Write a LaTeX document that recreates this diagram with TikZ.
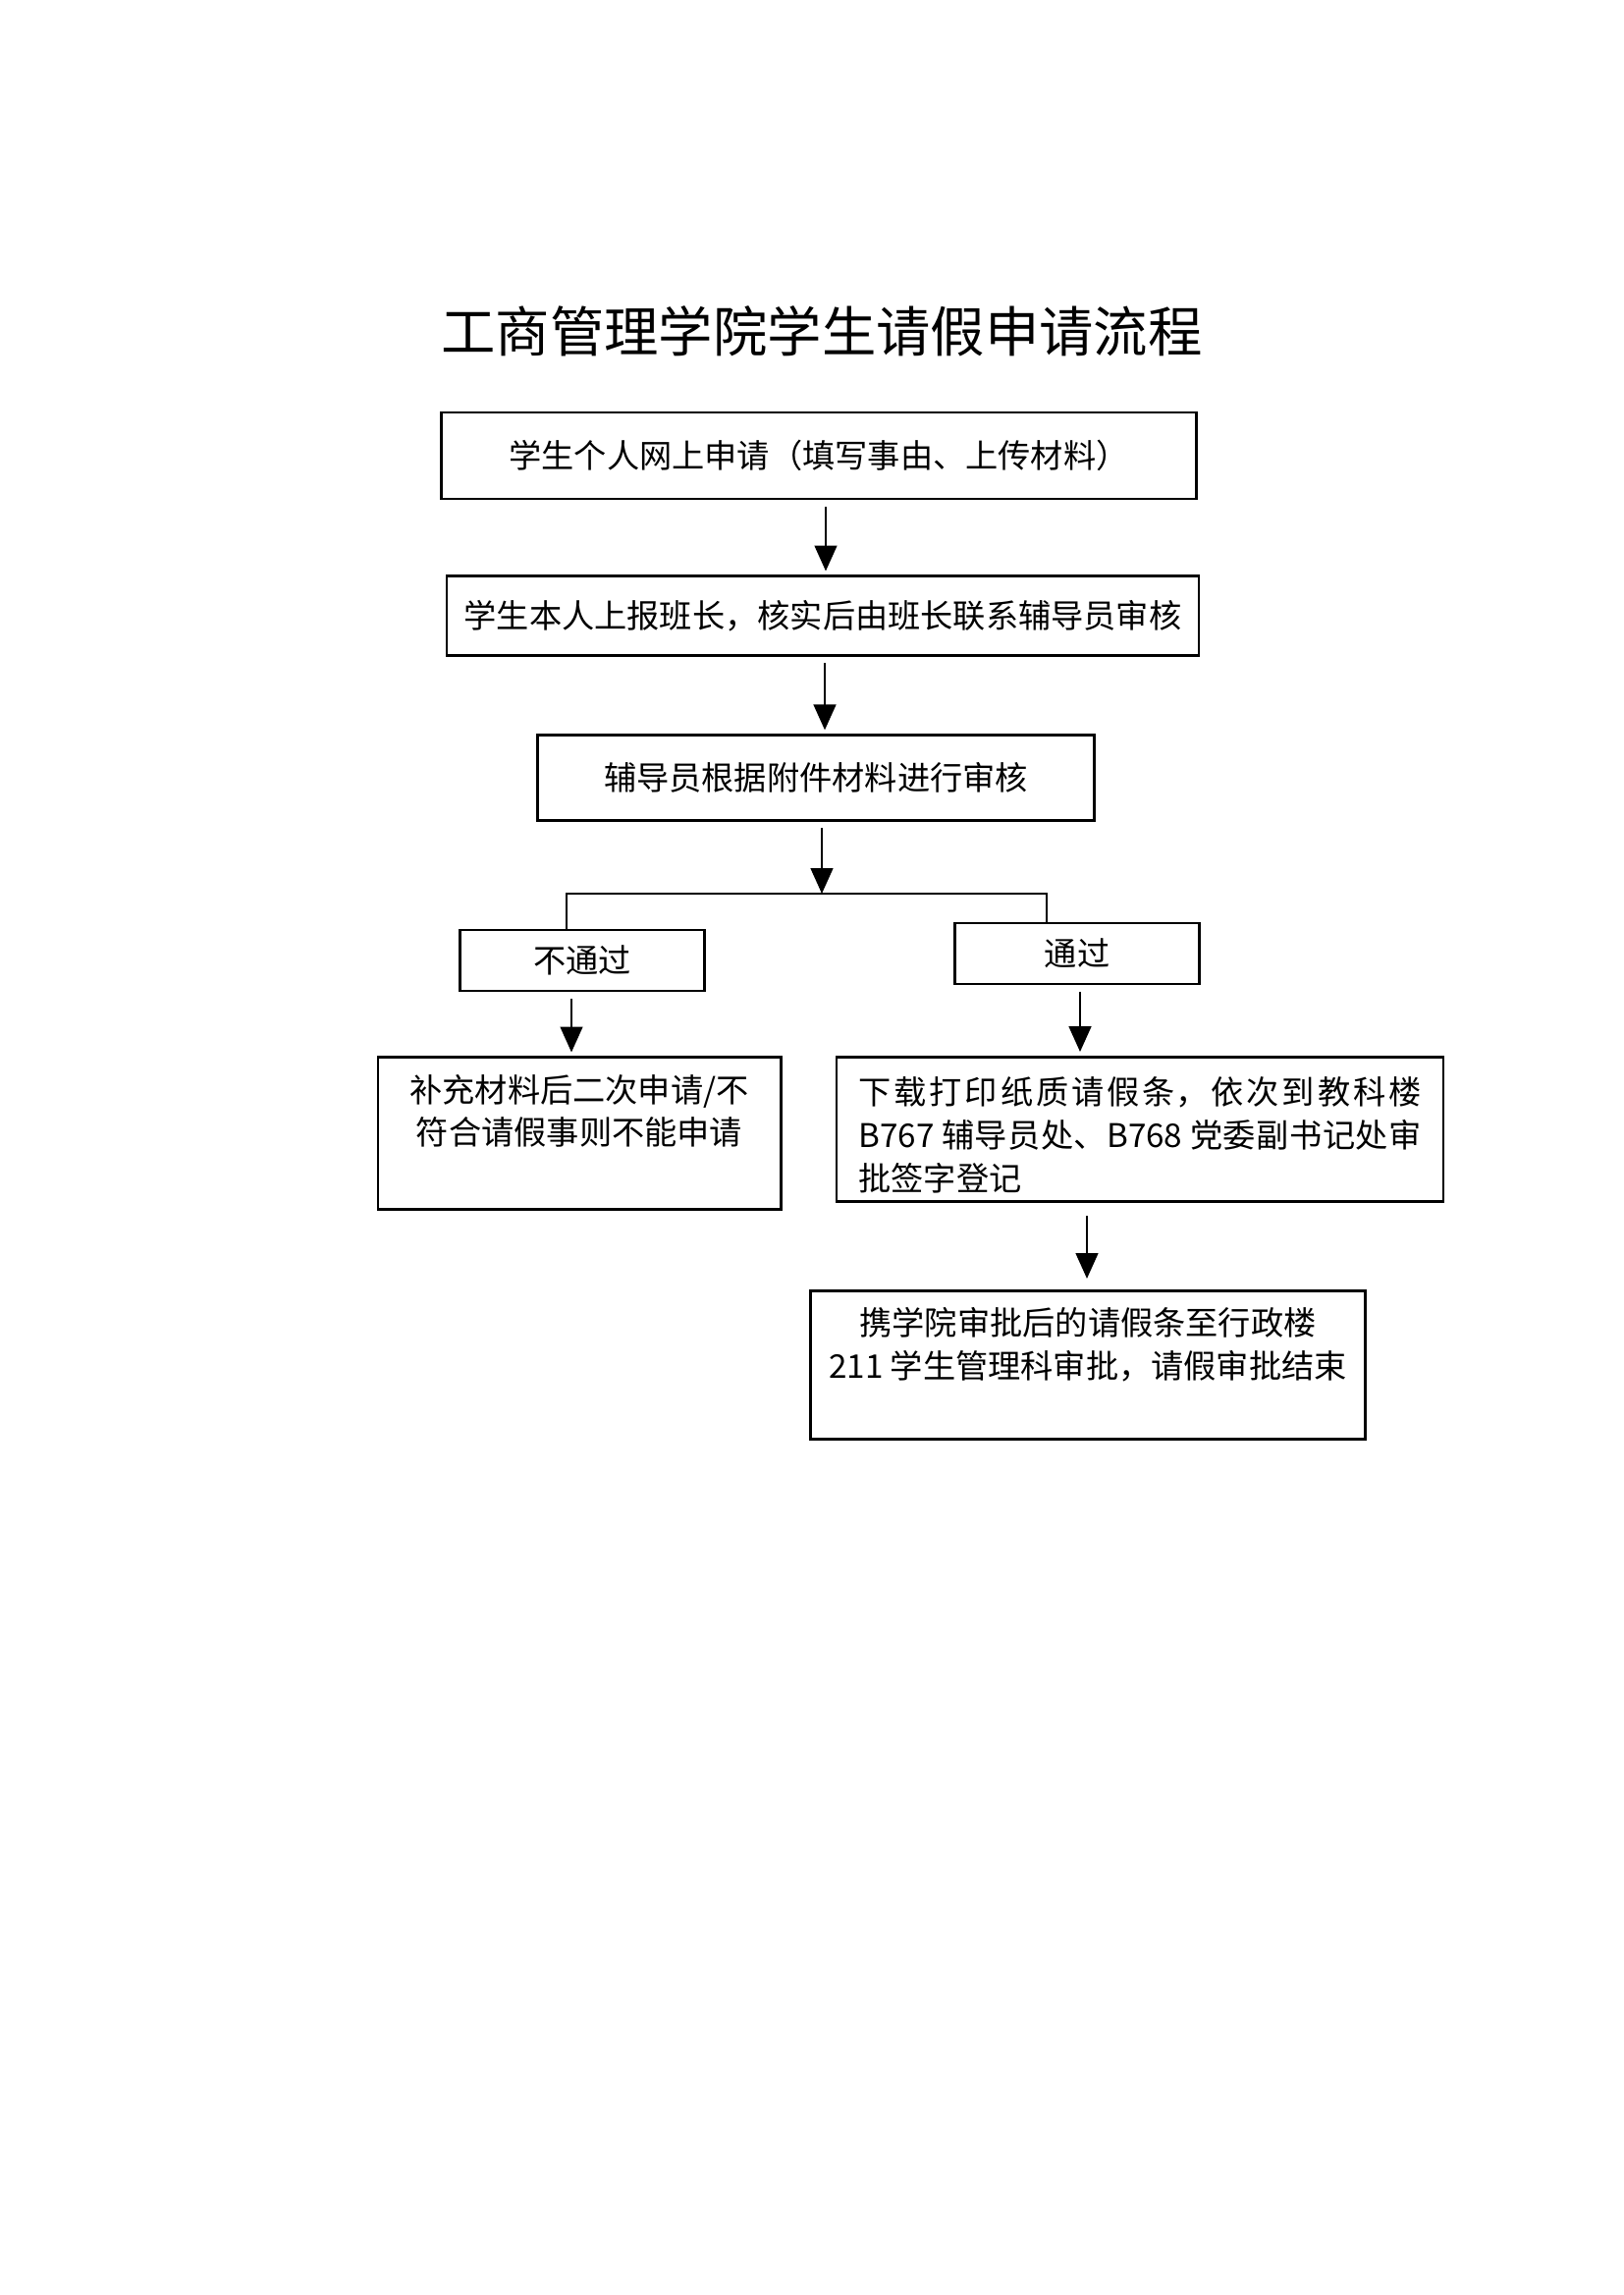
\documentclass[tikz,border=0pt]{standalone}
\usepackage{fontspec}
\setmainfont{Noto Sans CJK SC}
\usetikzlibrary{arrows.meta}

\begin{document}
\begin{tikzpicture}[x=0.127mm,y=-0.127mm,>={Triangle[length=3.3mm,width=2.9mm]},
  main node/.style={rectangle,draw,line width=1pt,inner sep=0pt,font=\fontsize{12pt}{15.8pt}\selectfont},
  flow/.style={->,line width=0.75pt,shorten >=0.5mm,shorten <=0.8mm}]

\useasboundingbox (0,0) rectangle (1653,2337);

\node[font=\fontsize{20pt}{24pt}\selectfont] (title) at (837,337) {工商管理学院学生请假申请流程};

\node[main node,minimum width=97.7mm,minimum height=11.2mm] (1) at (834,464) {学生个人网上申请（填写事由、上传材料）};
\node[main node,minimum width=97.3mm,minimum height=10.2mm] (2) at (838,627) {学生本人上报班长，核实后由班长联系辅导员审核};
\node[main node,minimum width=72mm,minimum height=11mm] (3) at (831,792) {辅导员根据附件材料进行审核};
\node[main node,minimum width=31.6mm,minimum height=7.9mm] (4) at (593,978) {不通过};
\node[main node,minimum width=31.6mm,minimum height=7.9mm] (5) at (1097,971) {通过};
\node[main node] (6) at (590,1154) {\parbox[c][19.6mm][t]{52.1mm}{\vspace{2.2mm}\centering 补充材料后二次申请/不\\符合请假事则不能申请}};
\node[main node,inner xsep=2.85mm] (7) at (1161,1150) {\parbox[c][18.7mm][t]{72.8mm}{\XeTeXlinebreaklocale "zh"\XeTeXlinebreakskip=0pt plus 2pt minus 0.3pt\vspace{2.6mm}下载打印纸质请假条，依次到教科楼\linebreak B767 辅导员处、B768 党委副书记处审\linebreak 批签字登记}};
\node[main node] (8) at (1108,1390) {\parbox[c][19.2mm][t]{71.8mm}{\vspace{2.2mm}\centering 携学院审批后的请假条至行政楼\\211 学生管理科审批，请假审批结束}};

\coordinate (split) at (837,910);

\draw[flow] (1.south -| 841,0) -- (2.north -| 841,0);
\draw[flow] (2.south -| 840,0) -- (3.north -| 840,0);
\draw[flow,shorten >=0pt] (3.south -| 837,0) -- (split);
\draw[line width=1pt] (4.north -| 577,0) |- (split) -| (5.north -| 1066,0);
\draw[flow] (4.south -| 582,0) -- (6.north -| 582,0);
\draw[flow] (5.south -| 1100,0) -- (7.north -| 1100,0);
\draw[flow,shorten <=1.7mm,shorten >=1.4mm] (7.south -| 1107,0) -- (8.north -| 1107,0);
\end{tikzpicture}
\end{document}
